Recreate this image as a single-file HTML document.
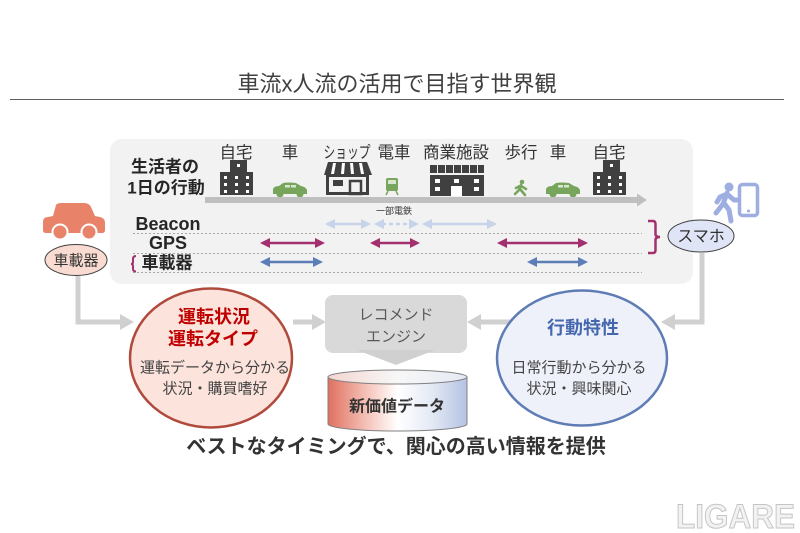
<!DOCTYPE html>
<html><head><meta charset="utf-8"><style>
html,body{margin:0;padding:0;background:#fff;}
svg{display:block;}
text{font-family:"Liberation Sans","Noto Sans CJK JP",sans-serif;}
</style></head><body>
<svg width="800" height="533" viewBox="0 0 800 533" xmlns="http://www.w3.org/2000/svg">
<defs>
<linearGradient id="cyl" x1="0" y1="0" x2="1" y2="0">
<stop offset="0" stop-color="#e0705f"/>
<stop offset="0.3" stop-color="#f6c9c0"/>
<stop offset="0.5" stop-color="#ffffff"/>
<stop offset="0.75" stop-color="#e3e9f5"/>
<stop offset="1" stop-color="#b4c3e2"/>
</linearGradient>
<linearGradient id="cyltop" x1="0" y1="0" x2="1" y2="0">
<stop offset="0" stop-color="#f3d6d0"/>
<stop offset="0.5" stop-color="#f7f7f7"/>
<stop offset="1" stop-color="#e4e9f3"/>
</linearGradient>
</defs>

<!-- Title -->
<text x="397" y="84" font-size="22" fill="#404040" text-anchor="middle" dominant-baseline="central">車流x人流の活用で目指す世界観</text>
<line x1="10" y1="99.5" x2="784" y2="99.5" stroke="#606060" stroke-width="1"/>

<!-- Panel -->
<rect x="110" y="139" width="583" height="145" rx="12" fill="#f2f2f2"/>

<text x="165" y="167" font-size="17" font-weight="bold" fill="#262626" text-anchor="middle" dominant-baseline="central">生活者の</text>
<text x="166" y="188" font-size="17" font-weight="bold" fill="#262626" text-anchor="middle" dominant-baseline="central">1日の行動</text>

<!-- Location labels -->
<g font-size="16.5" fill="#333" text-anchor="middle" dominant-baseline="central">
<text x="236" y="153">自宅</text>
<text x="290" y="153">車</text>
<text x="347" y="153" textLength="47" lengthAdjust="spacingAndGlyphs">ショップ</text>
<text x="394" y="153">電車</text>
<text x="456" y="153">商業施設</text>
<text x="521" y="153">歩行</text>
<text x="558" y="153">車</text>
<text x="609" y="153">自宅</text>
</g>

<!-- Building 1 -->
<g fill="#404040">
<rect x="230" y="160" width="17" height="14"/>
<rect x="220" y="172" width="33" height="23"/>
</g>
<g fill="#fff">
<rect x="237" y="164" width="3" height="3"/>
<rect x="224" y="176" width="3" height="3"/><rect x="235" y="176" width="3" height="3"/><rect x="246" y="176" width="3" height="3"/>
<rect x="224" y="183" width="3" height="3"/><rect x="235" y="183" width="3" height="3"/><rect x="246" y="183" width="3" height="3"/>
<rect x="224" y="190" width="3" height="3"/><rect x="235" y="190" width="3" height="3"/><rect x="246" y="190" width="3" height="3"/>
</g>

<!-- Building 2 -->
<g fill="#404040">
<rect x="603" y="160" width="17" height="14"/>
<rect x="593" y="172" width="33" height="23"/>
</g>
<g fill="#fff">
<rect x="610" y="164" width="3" height="3"/>
<rect x="597" y="176" width="3" height="3"/><rect x="608" y="176" width="3" height="3"/><rect x="619" y="176" width="3" height="3"/>
<rect x="597" y="183" width="3" height="3"/><rect x="608" y="183" width="3" height="3"/><rect x="619" y="183" width="3" height="3"/>
<rect x="597" y="190" width="3" height="3"/><rect x="608" y="190" width="3" height="3"/><rect x="619" y="190" width="3" height="3"/>
</g>

<!-- Green cars -->
<g fill="#78a55c">
<path d="M273 189 Q274 186 279 186 L283 183 Q288 182 296 183 L301 186 Q306 187 307 190 L307 194 L273 194 Z"/>
<circle cx="280" cy="194" r="3.5"/><circle cx="300" cy="194" r="3.5"/>
<path d="M546 189 Q547 186 552 186 L556 183 Q561 182 569 183 L574 186 Q579 187 580 190 L580 194 L546 194 Z"/>
<circle cx="553" cy="194" r="3.5"/><circle cx="573" cy="194" r="3.5"/>
</g>
<g fill="#d8e6cf">
<rect x="285" y="185" width="5" height="2.5"/><rect x="291" y="185" width="5" height="2.5"/>
<rect x="558" y="185" width="5" height="2.5"/><rect x="564" y="185" width="5" height="2.5"/>
</g>

<!-- Shop -->
<path d="M328 162 L367 162 L372 175 L324 175 Z" fill="#404040"/>
<g fill="#fff">
<path d="M333 163 L336 163 L334 174 L331 174 Z"/>
<path d="M342 163 L345 163 L344 174 L341 174 Z"/>
<path d="M350 163 L353 163 L354 174 L351 174 Z"/>
<path d="M359 163 L362 163 L364 174 L361 174 Z"/>
</g>
<rect x="327.5" y="175.5" width="40" height="18" fill="none" stroke="#404040" stroke-width="3"/>
<rect x="333" y="180" width="10" height="6" fill="#404040"/>
<rect x="350" y="181" width="11" height="13" fill="none" stroke="#404040" stroke-width="2.5"/>

<!-- Train -->
<rect x="386" y="178" width="12" height="13" rx="2" fill="#78a55c"/>
<rect x="388" y="180" width="8" height="4" fill="#d8e6cf"/>
<path d="M388 191 L386 195 M396 191 L398 195" stroke="#78a55c" stroke-width="1.5"/>

<!-- Commercial building -->
<g fill="#404040">
<rect x="430" y="165" width="7" height="8"/><rect x="438" y="165" width="7" height="8"/><rect x="446" y="165" width="7" height="8"/>
<rect x="454" y="165" width="7" height="8"/><rect x="462" y="165" width="7" height="8"/><rect x="470" y="165" width="7" height="8"/>
<rect x="478" y="165" width="6" height="8"/>
<rect x="430" y="175" width="54" height="21"/>
</g>
<g fill="#fff">
<rect x="435" y="179" width="5" height="4"/><rect x="454" y="179" width="5" height="4"/><rect x="474" y="179" width="5" height="4"/>
<rect x="435" y="187" width="5" height="4"/><rect x="474" y="187" width="5" height="4"/>
<rect x="451" y="186" width="11" height="10"/>
</g>

<!-- Walking person green -->
<circle cx="522" cy="182" r="2.3" fill="#78a55c"/>
<path d="M521 185 L519 190 L515 194 M520 189 L525 195 M521 186 L526 189 M520 186 L516 188" stroke="#78a55c" stroke-width="2.6" fill="none" stroke-linecap="round"/>

<!-- Timeline arrow -->
<rect x="205" y="197" width="434" height="6" fill="#bfbfbf"/>
<polygon points="637,193.5 647,200 637,206.5" fill="#bfbfbf"/>

<text x="394" y="211" font-size="9" fill="#333" text-anchor="middle" dominant-baseline="central">一部電鉄</text>

<!-- Row labels -->
<text x="168" y="224" font-size="18" font-weight="bold" fill="#262626" text-anchor="middle" dominant-baseline="central">Beacon</text>
<text x="168" y="243" font-size="18" font-weight="bold" fill="#262626" text-anchor="middle" dominant-baseline="central">GPS</text>
<text x="167" y="263" font-size="17" font-weight="bold" fill="#262626" text-anchor="middle" dominant-baseline="central">車載器</text>

<!-- dashed lines -->
<g stroke="#a8a8a8" stroke-width="1" stroke-dasharray="2,2">
<line x1="133" y1="233.5" x2="642" y2="233.5"/>
<line x1="133" y1="253.5" x2="642" y2="253.5"/>
<line x1="133" y1="272.5" x2="642" y2="272.5"/>
</g>

<!-- Beacon arrows -->
<g stroke="#c7d3e8" stroke-width="2.5" fill="none">
<line x1="333" y1="224" x2="362" y2="224"/>
<line x1="382" y1="224" x2="411" y2="224" stroke-dasharray="4,3"/>
<line x1="431" y1="224" x2="488" y2="224"/>
</g>
<g fill="#c7d3e8">
<polygon points="325,224 335,219 335,229"/><polygon points="371,224 361,219 361,229"/>
<polygon points="374,224 384,219 384,229"/><polygon points="419,224 409,219 409,229"/>
<polygon points="422,224 432,219 432,229"/><polygon points="497,224 487,219 487,229"/>
</g>

<!-- GPS arrows -->
<g stroke="#a3306e" stroke-width="2.5">
<line x1="268" y1="243" x2="316" y2="243"/>
<line x1="378" y1="243" x2="412" y2="243"/>
<line x1="505" y1="243" x2="580" y2="243"/>
</g>
<g fill="#a3306e">
<polygon points="260,243 270,238 270,248"/><polygon points="325,243 315,238 315,248"/>
<polygon points="370,243 380,238 380,248"/><polygon points="420,243 410,238 410,248"/>
<polygon points="497,243 507,238 507,248"/><polygon points="588,243 578,238 578,248"/>
</g>

<!-- 車載器 arrows -->
<g stroke="#5b7db8" stroke-width="2.5">
<line x1="268" y1="262" x2="315" y2="262"/>
<line x1="535" y1="262" x2="580" y2="262"/>
</g>
<g fill="#5b7db8">
<polygon points="260,262 270,257 270,267"/><polygon points="323,262 313,257 313,267"/>
<polygon points="527,262 537,257 537,267"/><polygon points="588,262 578,257 578,267"/>
</g>

<!-- Braces -->
<path d="M648 221 L653 221 Q655.5 221 655.5 224 L655.5 234 Q655.5 237 660 237 Q655.5 237 655.5 240 L655.5 250 Q655.5 253 653 253 L648 253" fill="none" stroke="#a3306e" stroke-width="2.5"/>
<path d="M136 256 Q133 256 133 259 L133 262 Q133 264 131 264 Q133 264 133 266 L133 269 Q133 271.5 136 271.5" fill="none" stroke="#a3306e" stroke-width="2"/>

<!-- Orange car -->
<g fill="#e8836a">
<path d="M56 205 Q57 203 62 203 L84 203 Q89 203 91 207 L95 216 L100 217 Q105 218 105 223 L105 230 Q105 233 102 233 L46 233 Q43 233 43 230 L43 222 Q43 217 48 217 L53 216 Z"/>
</g>
<circle cx="60" cy="232" r="7.5" fill="#e8836a" stroke="#fff" stroke-width="2"/>
<circle cx="89" cy="232" r="7.5" fill="#e8836a" stroke="#fff" stroke-width="2"/>

<!-- 車載器 ellipse -->
<ellipse cx="76" cy="260" rx="31" ry="15.5" fill="#f9dbd2" stroke="#404040" stroke-width="1"/>
<text x="76" y="261" font-size="15" fill="#333" text-anchor="middle" dominant-baseline="central">車載器</text>

<!-- Person & phone -->
<circle cx="729" cy="187" r="4.5" fill="#9eaee0"/>
<path d="M727 193 L723 204 L716 213 M724 203 L729 210 L731 221 M727 194 L734 200 L738 200 M727 194 L720 197 L717 202" stroke="#9eaee0" stroke-width="5" fill="none" stroke-linecap="round" stroke-linejoin="round"/>
<rect x="739.5" y="184.5" width="18" height="31" rx="3" fill="none" stroke="#9eaee0" stroke-width="3.5"/>
<circle cx="748.5" cy="211" r="1.5" fill="#9eaee0"/>

<!-- スマホ ellipse -->
<ellipse cx="701" cy="236" rx="33" ry="16" fill="#dfe4f6" stroke="#404040" stroke-width="1"/>
<text x="701" y="237" font-size="16" fill="#333" text-anchor="middle" dominant-baseline="central">スマホ</text>

<!-- Gray connectors -->
<g stroke="#d0d0d0" stroke-width="5" fill="none">
<path d="M78 276 L78 322 L122 322"/>
<path d="M293 322 L314 322"/>
<path d="M702 253 L702 322 L673 322"/>
<path d="M510 322 L478 322"/>
</g>
<g fill="#d0d0d0">
<polygon points="120,314 134,322 120,330"/>
<polygon points="312,314 326,322 312,330"/>
<polygon points="675,314 661,322 675,330"/>
<polygon points="481,314 467,322 481,330"/>
</g>

<!-- Red circle -->
<ellipse cx="211" cy="358" rx="81" ry="69.5" fill="#fce3dc" stroke="#b04a3c" stroke-width="2.5"/>
<text x="214" y="317" font-size="18" font-weight="bold" fill="#c00000" text-anchor="middle" dominant-baseline="central">運転状況</text>
<text x="213" y="339" font-size="18" font-weight="bold" fill="#c00000" text-anchor="middle" dominant-baseline="central">運転タイプ</text>
<text x="215" y="368" font-size="15" fill="#444" text-anchor="middle" dominant-baseline="central">運転データから分かる</text>
<text x="215" y="389" font-size="15" fill="#444" text-anchor="middle" dominant-baseline="central">状況・購買嗜好</text>

<!-- Blue circle -->
<ellipse cx="582" cy="358" rx="85" ry="67.5" fill="#eef1fa" stroke="#5f7cb5" stroke-width="2.5"/>
<text x="583" y="328" font-size="18" font-weight="bold" fill="#4567ad" text-anchor="middle" dominant-baseline="central">行動特性</text>
<text x="579" y="368" font-size="15" fill="#444" text-anchor="middle" dominant-baseline="central">日常行動から分かる</text>
<text x="579" y="389" font-size="15" fill="#444" text-anchor="middle" dominant-baseline="central">状況・興味関心</text>

<!-- Recommend engine -->
<rect x="325" y="295" width="142" height="58" rx="8" fill="#d9d9d9"/>
<text x="396" y="315" font-size="15" fill="#595959" text-anchor="middle" dominant-baseline="central">レコメンド</text>
<text x="396" y="337" font-size="15" fill="#595959" text-anchor="middle" dominant-baseline="central">エンジン</text>
<polygon points="357,350 435,350 396,365" fill="#d0d0d0"/>

<!-- Cylinder -->
<path d="M328 377 L328 424 A69.5 7 0 0 0 467 424 L467 377 Z" fill="url(#cyl)" stroke="#808080" stroke-width="1"/>
<ellipse cx="397.5" cy="377" rx="69.5" ry="7" fill="url(#cyltop)" stroke="#808080" stroke-width="1"/>
<text x="397" y="407" font-size="16" font-weight="bold" fill="#333" text-anchor="middle" dominant-baseline="central">新価値データ</text>

<!-- Bottom text -->
<text x="396" y="447" font-size="20" font-weight="bold" fill="#333" text-anchor="middle" dominant-baseline="central">ベストなタイミングで、関心の高い情報を提供</text>

<!-- Watermark -->
<text x="676" y="528" font-size="34" font-weight="bold" fill="#f2f2f2" stroke="#c4c4c4" stroke-width="1" textLength="119" lengthAdjust="spacingAndGlyphs">LIGARE</text>
</svg>
</body></html>
